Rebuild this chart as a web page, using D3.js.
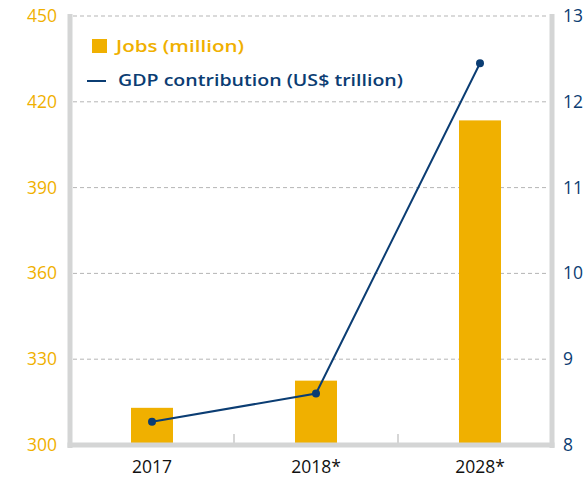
<!DOCTYPE html>
<html><head><meta charset="utf-8">
<script src="https://cdn.jsdelivr.net/npm/d3@7"></script>
<style>body{margin:0;background:#fff}svg{display:block}text{font-family:"Open Sans","Noto Sans",sans-serif}</style>
</head><body><svg id="c" width="584" height="480"></svg>
<script>
const categories = ["2017", "2018*", "2028*"];
const jobs = [313, 322.5, 413.5];
const gdp = [8.27, 8.6, 12.45];
const leftTicks = [300, 330, 360, 390, 420, 450];
const rightTicks = [8, 9, 10, 11, 12, 13];

(function () {
const gold = "#F0B000", navy = "#0B3D73", axisGray = "#D4D5D5";
const svg = d3.select("#c");
const pL = 70, pR = 552, pT = 16, pB = 445;

const x = d3.scaleBand().domain(categories).range([pL, 562]).padding(0);
const yL = d3.scaleLinear().domain([300, 450]).range([pB, pT]);
const yR = d3.scaleLinear().domain([8, 13]).range([pB, pT]);

// grid
svg.append("g").selectAll("line").data(leftTicks.slice(1)).join("line")
  .attr("x1", pL + 3).attr("x2", pR - 3)
  .attr("y1", d => yL(d)).attr("y2", d => yL(d))
  .attr("stroke", "#B5B5B5").attr("stroke-width", 1).attr("stroke-dasharray", "4,3");

// bars
const bw = 42;
svg.append("g").selectAll("rect").data(categories).join("rect")
  .attr("x", d => x(d) + x.bandwidth() / 2 - bw / 2)
  .attr("width", bw)
  .attr("y", (d, i) => yL(jobs[i]))
  .attr("height", (d, i) => pB - yL(jobs[i]))
  .attr("fill", gold);

// x ticks
svg.append("g").selectAll("line").data(categories.slice(1)).join("line")
  .attr("x1", d => x(d)).attr("x2", d => x(d))
  .attr("y1", pB - 11).attr("y2", pB)
  .attr("stroke", "#C8C8C8").attr("stroke-width", 1.5);

// axes lines
svg.append("line").attr("x1", pL).attr("x2", pL).attr("y1", pT - 2).attr("y2", pB + 3)
  .attr("stroke", axisGray).attr("stroke-width", 5);
svg.append("line").attr("x1", pR).attr("x2", pR).attr("y1", pT - 2).attr("y2", pB + 3)
  .attr("stroke", axisGray).attr("stroke-width", 5);
svg.append("line").attr("x1", pL - 2.5).attr("x2", pR + 2.5).attr("y1", pB).attr("y2", pB)
  .attr("stroke", axisGray).attr("stroke-width", 5);

// line
const line = d3.line().x((d, i) => x(categories[i]) + x.bandwidth() / 2).y(d => yR(d));
svg.append("path").datum(gdp).attr("d", line).attr("fill", "none")
  .attr("stroke", navy).attr("stroke-width", 2);
svg.append("g").selectAll("circle").data(gdp).join("circle")
  .attr("cx", (d, i) => x(categories[i]) + x.bandwidth() / 2).attr("cy", d => yR(d))
  .attr("r", 4).attr("fill", navy);

// tick labels
svg.append("g").selectAll("text").data(leftTicks).join("text")
  .attr("x", 57).attr("y", d => yL(d) + 6).attr("text-anchor", "end")
  .attr("font-size", 17.5).attr("fill", gold).text(d => d);
svg.append("g").selectAll("text").data(rightTicks).join("text")
  .attr("x", 563).attr("y", d => yR(d) + 6).attr("text-anchor", "start")
  .attr("font-size", 17.5).attr("fill", navy).text(d => d);
svg.append("g").selectAll("text").data(categories).join("text")
  .attr("x", d => x(d) + x.bandwidth() / 2).attr("y", 473).attr("text-anchor", "middle")
  .attr("font-size", 17.5).attr("fill", "#111").text(d => d);

// legend
svg.append("rect").attr("x", 92).attr("y", 39).attr("width", 15).attr("height", 14).attr("fill", gold);
svg.append("text").attr("x", 116).attr("y", 52).attr("font-size", 16.5).attr("font-weight", 600)
  .attr("textLength", 128).attr("lengthAdjust", "spacingAndGlyphs")
  .attr("fill", gold).text("Jobs (million)");
svg.append("line").attr("x1", 87).attr("x2", 106).attr("y1", 81).attr("y2", 81)
  .attr("stroke", navy).attr("stroke-width", 2);
svg.append("text").attr("x", 118).attr("y", 86).attr("font-size", 16.5).attr("font-weight", 600)
  .attr("textLength", 285).attr("lengthAdjust", "spacingAndGlyphs")
  .attr("fill", navy).text("GDP contribution (US$ trillion)");
})();
</script></body></html>
